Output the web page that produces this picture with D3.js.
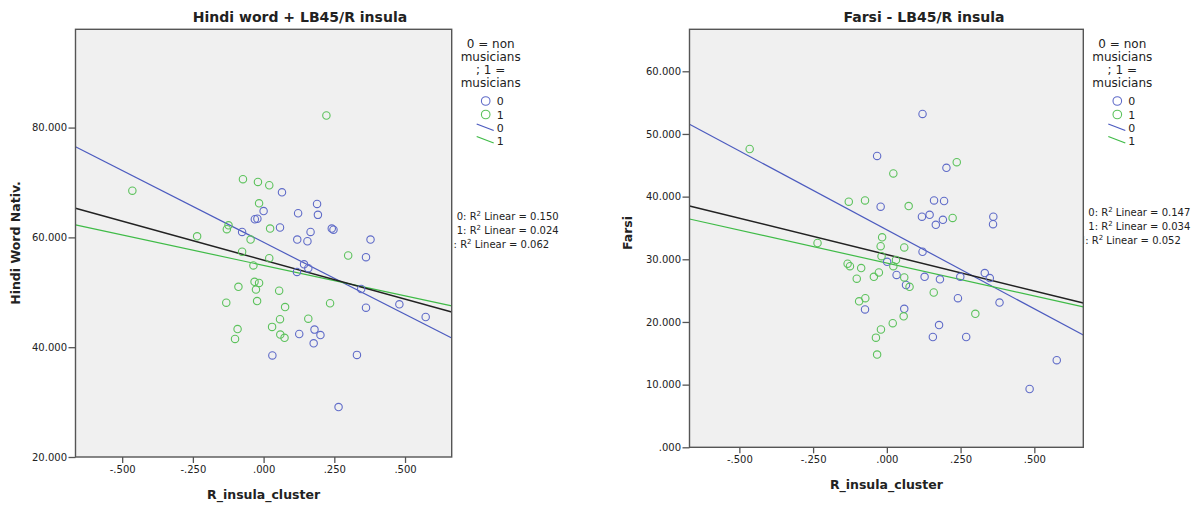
<!DOCTYPE html>
<html>
<head>
<meta charset="utf-8">
<script src="https://cdn.jsdelivr.net/npm/d3@7/dist/d3.min.js"></script>
<style>
  body { margin: 0; background: #fff; }
  text { font-family: "DejaVu Sans", sans-serif; fill: #222; }
</style>
</head>
<body>
<svg id="chart" width="1202" height="506"></svg>
<script>
// ---------- data ----------
var xTicks = [-0.5, -0.25, 0, 0.25, 0.5];
var hindiYTicks = [20, 40, 60, 80];
var farsiYTicks = [0, 10, 20, 30, 40, 50, 60];

var groupNames = ["0", "1"];
var fitNames = ["0", "1", "Total"];

// Hindi word, group 0 = non musicians
var hindiX0 = [0.065, 0.189, 0.000, -0.031, -0.022, 0.122, 0.192, -0.076, 0.058, 0.166, 0.241, 0.247, 0.119, 0.155, 0.378,
               0.362, 0.143, 0.158, 0.118, 0.345, 0.362, 0.480, 0.573, 0.126, 0.180, 0.201, 0.177, 0.031, 0.330, 0.265];
var hindiY0 = [68.2, 66.1, 64.8, 63.3, 63.4, 64.4, 64.1, 61.0, 61.8, 61.0, 61.6, 61.4, 59.6, 59.3, 59.6,
               56.4, 55.1, 54.4, 53.7, 50.6, 47.2, 47.8, 45.5, 42.4, 43.2, 42.2, 40.7, 38.5, 38.6, 29.1];
// Hindi word, group 1 = musicians
var hindiX1 = [-0.464, 0.222, -0.073, -0.020, 0.020, -0.016, -0.124, -0.130, -0.235, -0.046, 0.023, -0.076, 0.020, 0.299, -0.036, -0.032,
               -0.016, -0.089, -0.027, 0.055, -0.132, -0.023, 0.235, 0.076, 0.158, 0.058, 0.030, -0.092, 0.059, 0.074, -0.101];
var hindiY1 = [68.5, 82.2, 70.6, 70.1, 69.5, 66.2, 62.2, 61.5, 60.2, 59.6, 61.6, 57.4, 56.2, 56.7, 54.9, 51.9,
               51.7, 51.0, 50.5, 50.3, 48.1, 48.4, 48.0, 47.3, 45.2, 45.1, 43.7, 43.3, 42.3, 41.7, 41.5];

// Farsi, group 0
var farsiX0 = [0.121, -0.033, 0.202, -0.021, 0.160, 0.194, 0.119, 0.145, 0.190, 0.166, 0.361, 0.360, 0.121, 0.001, 0.033,
               0.128, 0.180, 0.249, 0.332, 0.349, 0.065, 0.241, 0.382, -0.074, 0.059, 0.177, 0.156, 0.269, 0.576, 0.484];
var farsiY0 = [53.2, 46.5, 44.6, 38.4, 39.4, 39.3, 36.8, 37.1, 36.3, 35.5, 36.8, 35.6, 31.2, 29.6, 27.5,
               27.2, 26.8, 27.2, 27.8, 27.0, 25.9, 23.8, 23.1, 22.0, 22.1, 19.5, 17.6, 17.6, 13.9, 9.3];
// Farsi, group 1
var farsiX1 = [-0.465, 0.237, 0.022, -0.129, -0.074, 0.074, 0.223, -0.235, -0.016, -0.021, 0.059, -0.018, 0.031, -0.133, -0.125, 0.022,
               -0.087, -0.027, -0.044, 0.059, -0.102, 0.077, 0.159, -0.073, -0.094, 0.300, 0.057, 0.020, -0.020, -0.037, -0.033];
var farsiY1 = [47.6, 45.5, 43.7, 39.2, 39.4, 38.5, 36.6, 32.6, 33.5, 32.1, 31.9, 30.5, 29.9, 29.3, 28.9, 28.9,
               28.6, 27.9, 27.2, 27.1, 26.9, 25.6, 24.7, 23.8, 23.3, 21.3, 20.9, 19.8, 18.8, 17.5, 14.8];

// linear fits (0, 1, Total): intercept, slope, R squared
var hindiFitB = [59.1, 54.9, 55.85];
var hindiFitM = [-26.2, -11.1, -14.2];
var hindiR2 = ["0.150", "0.024", "0.062"];
var farsiFitB = [34.7, 29.4, 30.75];
var farsiFitM = [-25.2, -10.5, -11.6];
var farsiR2 = ["0.147", "0.034", "0.052"];

// ---------- drawing ----------
var pointColors = ["#5f6bc8", "#5cc25c"];
var lineColors = ["#4c5bbf", "#3fbb47", "#222222"];

var svg = d3.select("#chart");

// SPSS style: no leading zero, plain hyphen
var fmt = function(d) {
  return d3.format(".3f")(d).replace("\u2212", "-").replace(/^(-?)0\./, "$1.");
};

function drawPanel(p) {
  var x = d3.scaleLinear().domain(p.xDomain).range([p.left, p.right]);
  var y = d3.scaleLinear().domain(p.yDomain).range([p.bottom, p.top]);
  var g = svg.append("g");

  g.append("clipPath").attr("id", p.id + "-clip")
    .append("rect")
    .attr("x", p.left).attr("y", p.top)
    .attr("width", p.right - p.left).attr("height", p.bottom - p.top);

  g.append("rect")
    .attr("x", p.left).attr("y", p.top)
    .attr("width", p.right - p.left).attr("height", p.bottom - p.top)
    .style("fill", "#f0f0f0");

  // fit lines
  var fits = g.append("g").attr("clip-path", "url(#" + p.id + "-clip)");
  [0, 1, 2].forEach(function(i) {
    var x0 = p.xDomain[0], x1 = p.xDomain[1];
    fits.append("line")
      .attr("x1", x(x0)).attr("y1", y(p.fitB[i] + p.fitM[i] * x0))
      .attr("x2", x(x1)).attr("y2", y(p.fitB[i] + p.fitM[i] * x1))
      .style("stroke", lineColors[i])
      .style("stroke-width", i == 2 ? 1.5 : 1.2);
  });

  // points
  [0, 1].forEach(function(gi) {
    var pts = d3.zip(p.xs[gi], p.ys[gi]);
    g.append("g").selectAll("circle")
      .data(pts).enter().append("circle")
      .attr("cx", function(d) { return x(d[0]); })
      .attr("cy", function(d) { return y(d[1]); })
      .attr("r", 3.7)
      .style("fill", "none")
      .style("stroke", pointColors[gi])
      .style("stroke-width", 1.1);
  });

  // frame
  g.append("rect")
    .attr("x", p.left).attr("y", p.top)
    .attr("width", p.right - p.left).attr("height", p.bottom - p.top)
    .style("fill", "none").style("stroke", "#555").style("stroke-width", 1.4);

  // axes
  var xa = g.append("g").attr("transform", "translate(0," + p.bottom + ")")
    .call(d3.axisBottom(x).tickValues(xTicks).tickFormat(fmt).tickSizeOuter(0).tickSize(6).tickPadding(3));
  var ya = g.append("g").attr("transform", "translate(" + p.left + ",0)")
    .call(d3.axisLeft(y).tickValues(p.yTicks).tickFormat(fmt).tickSizeOuter(0).tickSize(7).tickPadding(1.5));
  [xa, ya].forEach(function(a) {
    a.select(".domain").remove();
    a.selectAll("line").style("stroke", "#555").style("stroke-width", 1.3);
    a.selectAll("text").style("font-size", "10px").style("fill", "#222")
      .style("font-family", "'DejaVu Sans', sans-serif");
  });

  // titles
  g.append("text")
    .attr("x", p.titleX).attr("y", 21.5)
    .attr("text-anchor", "middle")
    .style("font-weight", "bold").style("font-size", "14px")
    .text(p.title);
  g.append("text")
    .attr("x", (p.left + p.right) / 2).attr("y", p.bottom + 42)
    .attr("text-anchor", "middle")
    .style("font-weight", "bold").style("font-size", "12.5px")
    .text("R_insula_cluster");
  g.append("text")
    .attr("transform", "translate(" + p.yTitleX + "," + p.yTitleY + ") rotate(-90)")
    .attr("text-anchor", "middle").attr("dy", "0.35em")
    .style("font-weight", "bold").style("font-size", "12.5px")
    .text(p.yTitle);

  // legend
  var R = p.right;
  var leg = g.append("g");
  ["0 = non", "musicians", "; 1 =", "musicians"].forEach(function(t, i) {
    leg.append("text")
      .attr("x", R + 39).attr("y", 47.5 + i * 13.2)
      .attr("text-anchor", "middle")
      .style("font-size", "12px")
      .text(t);
  });
  groupNames.forEach(function(n, i) {
    var cy = 101 + i * 13.5;
    leg.append("circle")
      .attr("cx", R + 34).attr("cy", cy).attr("r", 4.3)
      .style("fill", "none").style("stroke", pointColors[i]).style("stroke-width", 1.1);
    leg.append("text")
      .attr("x", R + 45).attr("y", cy + 4)
      .style("font-size", "11px").text(n);
  });
  groupNames.forEach(function(n, i) {
    var ly = 124 + i * 12.5;
    leg.append("line")
      .attr("x1", R + 25).attr("y1", ly)
      .attr("x2", R + 42).attr("y2", ly + 6.5)
      .style("stroke", lineColors[i]).style("stroke-width", 1.3);
    leg.append("text")
      .attr("x", R + 45).attr("y", ly + 8)
      .style("font-size", "11px").text(n);
  });

  // R squared labels, left part hidden behind the plot edge
  g.append("clipPath").attr("id", p.id + "-rclip")
    .append("rect").attr("x", R + 1.5).attr("y", 0).attr("width", 200).attr("height", 506);
  var rl = g.append("g").attr("clip-path", "url(#" + p.id + "-rclip)");
  fitNames.forEach(function(n, i) {
    var t = rl.append("text")
      .attr("x", R + (i == 2 ? 97.5 : 107)).attr("y", p.rY + i * 14)
      .attr("text-anchor", "end")
      .style("font-size", "10px");
    t.append("tspan").text(n + ": R");
    t.append("tspan").attr("dy", -4).style("font-size", "7px").text("2");
    t.append("tspan").attr("dy", 4).text(" Linear = " + p.r2[i]);
  });
}

drawPanel({
  id: "hindi", left: 75.5, right: 451.7, top: 29.3, bottom: 457,
  xDomain: [-0.665, 0.665], yDomain: [20, 97.9], yTicks: hindiYTicks,
  xs: [hindiX0, hindiX1], ys: [hindiY0, hindiY1],
  fitB: hindiFitB, fitM: hindiFitM, r2: hindiR2,
  title: "Hindi word + LB45/R insula", titleX: 300,
  yTitle: "Hindi Word Nativ.", yTitleX: 15.5, yTitleY: 243,
  rY: 219.5
});

drawPanel({
  id: "farsi", left: 689.5, right: 1083.3, top: 29.3, bottom: 447.3,
  xDomain: [-0.669, 0.666], yDomain: [0, 66.7], yTicks: farsiYTicks,
  xs: [farsiX0, farsiX1], ys: [farsiY0, farsiY1],
  fitB: farsiFitB, fitM: farsiFitM, r2: farsiR2,
  title: "Farsi - LB45/R insula", titleX: 924,
  yTitle: "Farsi", yTitleX: 627.5, yTitleY: 233,
  rY: 215.5
});
</script>
</body>
</html>
